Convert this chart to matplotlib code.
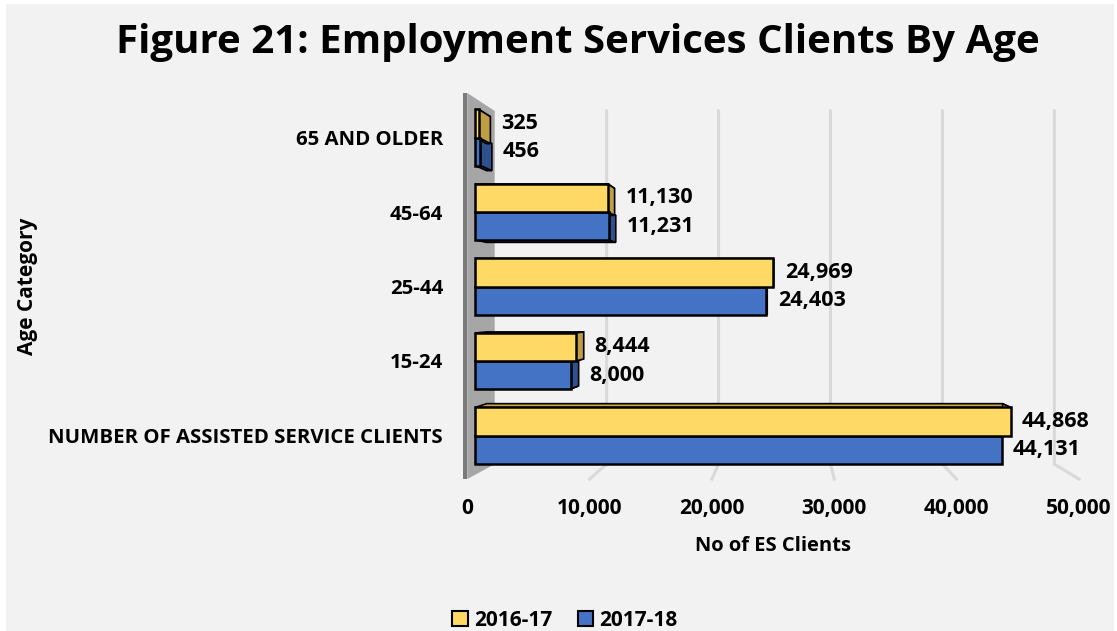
"""Figure 21: Employment Services Clients By Age (Excel-style 3D bar chart)."""

import matplotlib.pyplot as plt
from matplotlib.patches import Polygon, Rectangle, Patch
from matplotlib.lines import Line2D

# data (bottom to top, as drawn)
categories = ["NUMBER OF ASSISTED SERVICE CLIENTS", "15-24", "25-44", "45-64", "65 AND OLDER"]
series_names = ["2016-17", "2017-18"]
clients_2016_17 = [44868, 8444, 24969, 11130, 325]
clients_2017_18 = [44131, 8000, 24403, 11231, 456]
x_ticks = [0, 10000, 20000, 30000, 40000, 50000]

FONT = "Open Sans"
BG = "#F2F2F2"
YELLOW, YELLOW_DARK, YELLOW_TOP = "#FFD966", "#BF9F45", "#C9A74E"
BLUE, BLUE_DARK = "#4472C4", "#2F528F"

# fake perspective: vanishing point in data coords and depth scales
VPX, VPY = 26360, 1.765
S_LABEL, S_BAR_BACK, S_WALL_BACK = 1.0246, 0.963, 0.9375
FLOOR_Y, TOP_Y = -0.528, 4.529
BAR_H = 0.376


def proj(v, y, s):
    return VPX + s * (v - VPX), VPY + s * (y - VPY)


fig = plt.figure(figsize=(11.17, 6.31), dpi=100)
fig.patch.set_facecolor("white")
fig.add_artist(Rectangle((6 / 1117, 0), 1108 / 1117, 627 / 631,
                         transform=fig.transFigure, facecolor=BG, edgecolor="none", zorder=-10))

ax = fig.add_axes([475 / 1117, (631 - 495.1) / 631, 597 / 1117, 402.3 / 631])
ax.set_facecolor("none")
ax.set_xlim(0, 50000)
ax.set_ylim(-0.8, 4.6)
for sp in ax.spines.values():
    sp.set_visible(False)
ax.set_xticks([])

# gridlines on back wall + floor
for v in x_ticks[1:]:
    x0, y0 = proj(v, FLOOR_Y, S_WALL_BACK)
    x1, y1 = proj(v, TOP_Y, S_WALL_BACK)
    x2, y2 = proj(v, FLOOR_Y, S_LABEL)
    ax.add_line(Line2D([x2, x0, x1], [y2, y0, y1], color="#D9D9D9", lw=2.2,
                       clip_on=False, zorder=1))

# side wall at value 0
wall = [proj(0, FLOOR_Y, S_LABEL), proj(0, TOP_Y, S_LABEL),
        proj(0, TOP_Y, S_WALL_BACK), proj(0, FLOOR_Y, S_WALL_BACK)]
ax.add_patch(Polygon(wall, closed=True, facecolor="#A6A6A6", edgecolor="none",
                     clip_on=False, zorder=2))
front_strip = [proj(-330, FLOOR_Y, S_LABEL), proj(-330, TOP_Y, S_LABEL),
               proj(0, TOP_Y, S_LABEL), proj(0, FLOOR_Y, S_LABEL)]
ax.add_patch(Polygon(front_strip, closed=True, facecolor="#7A7A7A", edgecolor="none",
                     clip_on=False, zorder=2))

# bars: depth faces first, then front faces
bars = []
for i in range(len(categories)):
    bars.append((clients_2017_18[i], i - BAR_H, i, BLUE, BLUE_DARK, BLUE_DARK))
    bars.append((clients_2016_17[i], i, i + BAR_H, YELLOW, YELLOW_DARK, YELLOW_TOP))

for v, y0, y1, face, side, top in bars:
    side_poly = [(v, y0), (v, y1), proj(v, y1, S_BAR_BACK), proj(v, y0, S_BAR_BACK)]
    top_poly = [(0, y1), (v, y1), proj(v, y1, S_BAR_BACK), proj(0, y1, S_BAR_BACK)]
    bot_poly = [(0, y0), (v, y0), proj(v, y0, S_BAR_BACK), proj(0, y0, S_BAR_BACK)]
    for poly, col in ((bot_poly, side), (top_poly, top), (side_poly, side)):
        ax.add_patch(Polygon(poly, closed=True, facecolor=col, edgecolor="black",
                             lw=1.2, joinstyle="miter", zorder=3, clip_on=False))

for v, y0, y1, face, side, top in bars:
    ax.barh(y0, v, height=y1 - y0, align="edge", color=face, edgecolor="black",
            linewidth=1.8, zorder=4, clip_on=False)
    end = max(v, proj(v, y0, S_BAR_BACK)[0])
    ax.annotate(f"{v:,}", xy=(end, (y0 + y1) / 2), xytext=(11, 0),
                textcoords="offset pixels", ha="left", va="center",
                fontsize=15.5, fontweight="bold", family=FONT, zorder=5)

# category labels
ax.set_yticks(range(len(categories)))
ax.set_yticklabels(categories, fontsize=14.7, fontweight="bold", family=FONT)
ax.tick_params(axis="y", length=0, pad=23)

# value axis labels on the front floor edge
for v in x_ticks:
    x, y = proj(v, FLOOR_Y, S_LABEL)
    ax.annotate(f"{v:,}", xy=(x, y), xytext=(0, -29), textcoords="offset pixels",
                ha="center", va="center", fontsize=15, fontweight="bold",
                family=FONT, annotation_clip=False)

fig.text(773 / 1117, 1 - 546 / 631, "No of ES Clients", ha="center", va="center",
         fontsize=14.5, fontweight="bold", family=FONT)
fig.text(28 / 1117, 1 - 286 / 631, "Age Category", ha="center", va="center",
         rotation=90, fontsize=15, fontweight="bold", family=FONT)
fig.text(578 / 1117, 1 - 42 / 631, "Figure 21: Employment Services Clients By Age",
         ha="center", va="center", fontsize=29, fontweight="bold", family=FONT)

handles = [Patch(facecolor=YELLOW, edgecolor="black", lw=1.5),
           Patch(facecolor=BLUE, edgecolor="black", lw=1.5)]
fig.legend(handles, series_names, loc="center", bbox_to_anchor=(565 / 1117, 1 - 620 / 631),
           ncol=2, frameon=False, handlelength=0.75, handleheight=0.75,
           handletextpad=0.3, columnspacing=1.2,
           prop={"family": FONT, "weight": "bold", "size": 15})

fig.savefig("out.png", dpi=100, facecolor=fig.get_facecolor())
